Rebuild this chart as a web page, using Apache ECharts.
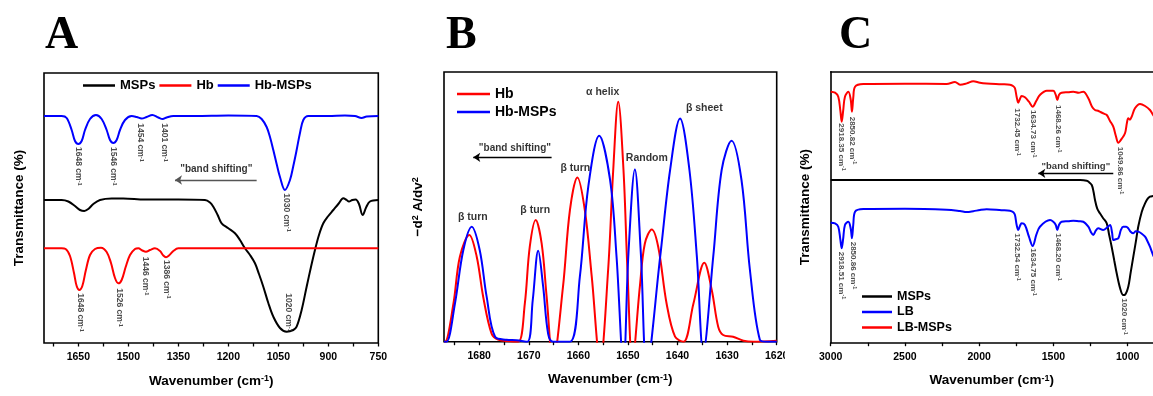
<!DOCTYPE html>
<html><head><meta charset="utf-8">
<script src="https://cdn.jsdelivr.net/npm/echarts@6/dist/echarts.min.js"></script>
<style>html,body{margin:0;padding:0;background:#fff}#c{width:1153px;height:396px}</style>
</head><body><div id="c"></div>
<script>
// ---------- Panel A (FTIR, 1750-750 cm-1) ----------
const aLabels = [750, 900, 1050, 1200, 1350, 1500, 1650];
const aTicks = [750, 825, 900, 975, 1050, 1125, 1200, 1275, 1350, 1425, 1500, 1575, 1650, 1725];
const aMSPs = [[1753,143],[1700,143],[1680,141.5],[1660,137],[1645,133],[1632,132],[1620,134],[1605,139],[1585,143],[1550,144.5],[1515,144.5],[1450,143.5],[1400,143.5],[1350,143.5],[1270,143],[1255,140.5],[1245,136.3],[1232,128],[1220,119.7],[1200,114.7],[1180,109.7],[1165,103],[1150,94.7],[1135,88],[1120,79.7],[1108,69],[1095,56.3],[1080,40],[1065,26.3],[1045,15],[1025,11.3],[1005,13],[995,16.3],[980,33],[965,56.3],[952,76],[940,93],[928,108],[915,119.7],[900,127],[885,133],[870,139],[855,144.7],[845,143],[838,141.5],[828,143],[818,143.5],[808,139],[797,128],[786,136],[775,141.5],[750,143]];
const aHb = [[1753,94.7],[1700,94.7],[1688,94],[1675,87],[1663,70],[1655,57],[1647,53],[1638,57],[1628,72],[1615,88],[1600,94],[1582,95.3],[1565,91],[1552,80],[1540,65],[1530,59.7],[1520,63],[1508,76],[1495,88],[1480,94],[1470,94.7],[1458,92.5],[1447,91.3],[1435,93],[1420,94.7],[1405,92],[1395,87.5],[1387,85.7],[1378,87.5],[1365,92],[1350,94.7],[1200,94.7],[1000,94.7],[800,94.7],[750,94.7]];
const aHbMSPs = [[1753,227],[1700,227],[1685,225],[1670,213],[1660,202],[1650,199],[1640,202],[1630,213],[1615,224],[1597,228],[1580,224],[1565,213],[1555,203],[1545,200],[1535,203],[1525,213],[1510,223],[1490,227],[1475,226],[1460,224.5],[1445,226],[1428,228],[1410,225.5],[1397,224],[1385,225.5],[1365,227],[1300,227],[1200,227.5],[1115,227],[1100,224],[1085,216],[1075,206],[1065,193],[1055,179],[1045,166],[1030,153],[1015,163],[1005,177],[995,193],[985,210],[975,223],[960,227],[900,227],[850,227.5],[820,227],[800,225],[785,226.5],[750,227]];
const aNotesBlue = [[1650,196,'1648'],[1545,196,'1546'],[1465,219.7,'1454'],[1393,219.7,'1401'],[1025,149.7,'1030']];
const aNotesRed = [[1645,49.7,'1648'],[1528,54.7,'1526'],[1450,86.3,'1446'],[1385,83,'1386'],[1020,49.7,'1020']];
const aShiftText = [1236, 174];
const aShiftArrow = [1115, 1360, 163];

// ---------- Panel B (second derivative, amide I) ----------
const bLabels = [1620, 1630, 1640, 1650, 1660, 1670, 1680];
const bTicks = [1620, 1625, 1630, 1635, 1640, 1645, 1650, 1655, 1660, 1665, 1670, 1675, 1680, 1685];
const bHb = [[1687.1,0],[1686.9,0],[1685.2,38],[1683.9,85],[1682.0,106.7],[1680.5,85],[1679.2,45],[1677.5,8],[1676.2,2],[1674,0.5],[1672.1,0],[1670.8,38],[1669.8,95],[1668.6,121.7],[1667.4,98],[1666.4,45],[1665.1,-20],[1663.1,55],[1661.7,131.7],[1660.2,164.3],[1658.7,131.7],[1657.3,65],[1655.6,-20],[1654.0,71.7],[1652.97,171.7],[1651.96,240],[1650.9,171.7],[1650.1,71.7],[1649.1,-20],[1647.6,55],[1646.6,98],[1645.2,112.3],[1643.9,95],[1642.2,38],[1640.5,5],[1638.8,0],[1636.8,38],[1634.6,79],[1633.1,51.7],[1631.8,15],[1630.8,6.7],[1628.8,5],[1626.7,1],[1624.7,0],[1620,1]];
const bHbMSPs = [[1687.1,0],[1686.6,0],[1684.9,38],[1683.2,91.7],[1681.5,115],[1679.9,91.7],[1678.5,45],[1676.8,5],[1674.5,2],[1672.5,1.5],[1670.3,0],[1669.2,41.7],[1668.1,91],[1667.1,55],[1666.1,8],[1665.1,0],[1661.7,0],[1659.7,65],[1658.0,155],[1655.8,206],[1653.6,161.7],[1652.3,85],[1650.9,-25],[1649.9,88.3],[1648.6,172.3],[1647.4,88.3],[1646.2,-25],[1643.5,85],[1641.5,171.7],[1639.5,223.3],[1637.6,171.7],[1636.1,85],[1634.8,-10],[1632.8,85],[1631.1,171.7],[1629.1,201],[1627.1,161.7],[1625.4,71.7],[1623.4,2],[1622,0],[1620,0]];
const bBandNames = [[1681.3,125,'β turn'],[1668.7,131.7,'β turn'],[1660.6,173.4,'β turn'],[1655.1,250,'α helix'],[1646.2,183.4,'Random'],[1634.6,233.4,'β sheet']];
const bShiftText = [1672.8, 193.4];
const bShiftArrow = [1665.4, 1681.2, 184.4];

// ---------- Panel C (FTIR, 3000-830 cm-1 visible) ----------
const cLabels = [1000, 1500, 2000, 2500, 3000];
const cTicks = [1000, 1250, 1500, 1750, 2000, 2250, 2500, 2750, 3000];
const cMSPs = [[3000,162.7],[2500,162.7],[2000,162.7],[1500,162.7],[1320,162.7],[1276,162],[1260,160.5],[1242,157.7],[1230,151],[1220,142.7],[1205,134],[1187,129.4],[1165,124.5],[1141,119.4],[1125,108],[1108,96],[1090,82],[1074,69.4],[1050,54],[1030,47.7],[1018,48],[996,56],[980,70],[962,86],[945,101],[929,116],[905,131],[883,139.4],[865,144],[850,146],[829,146.7],[780,148],[700,148]];
const cLB = [[3000,120],[2971,119.3],[2949,116],[2935,103],[2926,94.4],[2916,104],[2904,117.7],[2881,121],[2865,114],[2857,104.4],[2848,118],[2836,131],[2780,133.7],[2500,134],[2219,133],[2129,131.7],[2084,130.7],[2040,131.5],[1995,132.7],[1950,133.4],[1850,132.5],[1793,132],[1770,130.5],[1759,127.7],[1748,118],[1737,112.7],[1725,117],[1714,119.4],[1692,117.7],[1665,106],[1640,96.7],[1615,108],[1591,116],[1523,122.7],[1501,121],[1485,118],[1474,112.7],[1462,118],[1445,121],[1400,121.5],[1366,122],[1330,121.5],[1299,121],[1265,116],[1245,110],[1232,107.7],[1215,112],[1198,114.4],[1165,112.7],[1140,115],[1119,117.7],[1105,110],[1097,102.7],[1080,103.5],[1063,104.4],[1045,113],[1030,116],[1010,116],[996,114.4],[980,111],[962,109.4],[945,111.5],[929,111],[905,109],[883,106],[865,101],[850,96],[829,87.7],[780,72],[700,50]];
const cLBMSPs = [[3000,251],[2971,250],[2949,246],[2935,232],[2926,221],[2916,232],[2904,246],[2881,251],[2865,243],[2857,231],[2848,245],[2836,256],[2780,258.7],[2500,259],[2219,258.7],[2163,260.7],[2129,258],[2084,259.3],[2040,261.4],[1995,260],[1950,259.3],[1850,258.5],[1793,258],[1770,256.5],[1759,254.4],[1748,246],[1737,240],[1725,244],[1714,246.7],[1692,245.4],[1665,241],[1640,236],[1615,242],[1591,247.7],[1545,252],[1501,252],[1485,248],[1474,242.7],[1462,248],[1445,250],[1400,250.5],[1366,251],[1330,250],[1299,251],[1265,244.4],[1240,236],[1220,232.7],[1200,232],[1187,231],[1160,229],[1141,227.7],[1120,222],[1097,216],[1080,207],[1063,200],[1040,204],[1018,209.4],[1005,220],[996,224.4],[985,223],[973,226],[951,234.4],[917,238.7],[883,236.7],[850,232.7],[829,227.7],[780,218],[700,205]];
const cNotesRed = [[2926,219.4,'2918.35'],[2852,226,'2850.82'],[1744,234.4,'1732.45'],[1636,232.7,'1634.73'],[1467,237.7,'1468.26'],[1052,196,'1049.86']];
const cNotesBlue = [[2926,91,'2918.51'],[2848,101,'2850.86'],[1744,109.4,'1732.54'],[1636,94.4,'1634.75'],[1467,109.4,'1468.20']];
const cNotesBlack = [[1025,44.4,'1020']];
const cShiftText = [1349, 176.7];
const cShiftArrow = [1097, 1602, 169.4];

// ---------- build ----------
const F = '"Liberation Sans", Arial, Helvetica, sans-serif';
const chart = echarts.init(document.getElementById('c'), null, {renderer: 'canvas'});

const supRich = (big, small) => ({
  a: {fontSize: big, fontWeight: 'bold', fontFamily: F, color: '#000'},
  s: {fontSize: small, fontWeight: 'bold', fontFamily: F, color: '#000', verticalAlign: 'top'}
});
const AXW = 1.6;

function xAx(gi, min, max, labels, ticks, showLine) {
  return {
    type: 'value', gridIndex: gi, inverse: true, min: min, max: max, position: 'bottom',
    axisLine: {show: !!showLine, onZero: false, lineStyle: {color: '#000', width: AXW}}, splitLine: {show: false},
    axisTick: {show: true, customValues: ticks, length: 3.5, inside: false, lineStyle: {color: '#000', width: 1.3}},
    axisLabel: {customValues: labels, margin: 9, color: '#000', fontFamily: F, fontWeight: 'bold', fontSize: 10.5,
      formatter: v => String(v)},
    name: '{a|Wavenumber (cm}{s|-1}{a|)}', nameLocation: 'middle', nameGap: 31,
    nameTextStyle: {rich: supRich(13.5, 9)}
  };
}
function yAx(gi, max, name, gap, showLine) {
  return {
    type: 'value', gridIndex: gi, min: 0, max: max,
    axisLine: {show: !!showLine, onZero: false, lineStyle: {color: '#000', width: AXW}},
    axisTick: {show: false}, axisLabel: {show: false}, splitLine: {show: false},
    name: name, nameLocation: 'middle', nameGap: gap, nameRotate: 90,
    nameTextStyle: {rich: supRich(13.5, 9)}
  };
}
function curve(gi, name, data, color, z) {
  return {type: 'line', name: name, xAxisIndex: gi, yAxisIndex: gi, data: data, smooth: 0.35,
    showSymbol: false, symbol: 'none', lineStyle: {color: color, width: 2}, itemStyle: {color: color},
    z: z || 2, silent: true, clip: true};
}
function notes(gi, id, arr, size) {
  return {
    type: 'scatter', name: id, xAxisIndex: gi, yAxisIndex: gi, symbolSize: 1, silent: true, z: 6,
    itemStyle: {color: 'rgba(0,0,0,0)'},
    data: arr.map(d => ({value: [d[0], d[1]], label: {formatter: '{n|' + d[2] + ' cm}{s|-1}'}})),
    label: {show: true, position: 'inside', rotate: -90, align: 'left', verticalAlign: 'middle',
      rich: {n: {fontSize: size, fontWeight: 'bold', fontFamily: F, color: '#222'},
             s: {fontSize: size * 0.68, fontWeight: 'bold', fontFamily: F, color: '#222', verticalAlign: 'top'}}}
  };
}
function shift(gi, id, txt, arrow, color, size) {
  return {
    type: 'scatter', name: id, xAxisIndex: gi, yAxisIndex: gi, symbolSize: 1, silent: true, z: 6,
    itemStyle: {color: 'rgba(0,0,0,0)'},
    data: [{value: txt}],
    label: {show: true, position: 'inside', formatter: '"band shifting"', color: '#000',
      fontFamily: F, fontWeight: 'bold', fontSize: size, align: 'center', verticalAlign: 'middle'},
    markLine: {silent: true, symbol: ['none', 'arrow'], symbolSize: 7, animation: false,
      lineStyle: {color: color, width: 1.3, type: 'solid'}, itemStyle: {color: color}, label: {show: false},
      emphasis: {disabled: true},
      data: [[{coord: [arrow[0], arrow[2]]}, {coord: [arrow[1], arrow[2]]}]]}
  };
}
function bandNames(gi, arr) {
  return {
    type: 'scatter', name: 'bandNames', xAxisIndex: gi, yAxisIndex: gi, symbolSize: 1, silent: true, z: 6,
    itemStyle: {color: 'rgba(0,0,0,0)'},
    data: arr.map(d => ({value: [d[0], d[1]], label: {formatter: d[2]}})),
    label: {show: true, position: 'inside', color: '#000', fontFamily: F, fontWeight: 'bold', fontSize: 10.5,
      align: 'center', verticalAlign: 'middle'}
  };
}
const gridBase = {show: true, borderColor: '#000', borderWidth: AXW, backgroundColor: 'rgba(0,0,0,0)', containLabel: false};
const legText = (s) => ({fontSize: s, fontWeight: 'bold', fontFamily: F, color: '#000'});
const SERIF = 'bold 46px "Liberation Serif", "Times New Roman", serif';

const cMin = 829.5;
const option = {
  animation: false,
  backgroundColor: '#fff',
  grid: [
    Object.assign({left: 44, top: 73, width: 334.3, height: 270}, gridBase),
    Object.assign({left: 444, top: 72, width: 332.7, height: 269.7}, gridBase),
    {show: false, left: 830.7, top: 71.7, right: 0, height: 271, containLabel: false}
  ],
  xAxis: [
    xAx(0, 750, 1753, aLabels, aTicks, false),
    xAx(1, 1620, 1687.1, bLabels, bTicks, false),
    xAx(2, cMin, 3000, cLabels, cTicks, true),
    {type: 'value', gridIndex: 2, inverse: true, min: cMin, max: 3000, position: 'top',
     axisLine: {show: true, onZero: false, lineStyle: {color: '#000', width: AXW}},
     axisTick: {show: false}, axisLabel: {show: false}, splitLine: {show: false}}
  ],
  yAxis: [
    yAx(0, 270, '{a|Transmittance (%)}', 18, false),
    yAx(1, 269.7, '{a|−d}{s|2}{a| A/dv}{s|2}', 19, false),
    yAx(2, 271, '{a|Transmittance (%)}', 18, true)
  ],
  legend: [
    {left: 83, top: 79, orient: 'horizontal', icon: 'rect', itemWidth: 32, itemHeight: 2.5, itemGap: 4, padding: 0,
     selectedMode: false, data: ['MSPs', 'Hb', 'Hb-MSPs'], textStyle: legText(13)},
    {left: 457, top: 87, orient: 'vertical', icon: 'rect', itemWidth: 33, itemHeight: 2.5, itemGap: 4, padding: 0,
     selectedMode: false, data: ['Hb', 'Hb-MSPs'], textStyle: legText(14)},
    {left: 862, top: 290, orient: 'vertical', icon: 'rect', itemWidth: 30, itemHeight: 2.5, itemGap: 2.5, padding: 0,
     selectedMode: false, data: ['MSPs', 'LB', 'LB-MSPs'], textStyle: legText(12.5)}
  ],
  series: [
    curve(0, 'MSPs', aMSPs, '#000000'),
    curve(0, 'Hb', aHb, '#ff0000'),
    curve(0, 'Hb-MSPs', aHbMSPs, '#0000ff'),
    notes(0, 'notesA1', aNotesBlue, 8.5),
    notes(0, 'notesA2', aNotesRed, 8.5),
    shift(0, 'shiftA', aShiftText, aShiftArrow, '#555', 10),
    curve(1, 'Hb', bHb, '#ff0000'),
    curve(1, 'Hb-MSPs', bHbMSPs, '#0000ff', 3),
    bandNames(1, bBandNames),
    shift(1, 'shiftB', bShiftText, bShiftArrow, '#000', 10),
    curve(2, 'MSPs', cMSPs, '#000000'),
    curve(2, 'LB', cLB, '#0000ff'),
    curve(2, 'LB-MSPs', cLBMSPs, '#ff0000'),
    notes(2, 'notesC1', cNotesRed, 8),
    notes(2, 'notesC2', cNotesBlue, 8),
    notes(2, 'notesC3', cNotesBlack, 8),
    shift(2, 'shiftC', cShiftText, cShiftArrow, '#000', 9.5)
  ],
  graphic: [
    {type: 'text', left: 45, top: 13, style: {text: 'A', font: SERIF, fill: '#000'}},
    {type: 'text', left: 446, top: 13, style: {text: 'B', font: SERIF, fill: '#000'}},
    {type: 'text', left: 839, top: 13, style: {text: 'C', font: SERIF, fill: '#000'}},
    {type: 'rect', z: 100, shape: {x: 785, y: 345, width: 30, height: 20}, style: {fill: '#fff'}}
  ]
};
chart.setOption(option);
</script>
</body></html>
